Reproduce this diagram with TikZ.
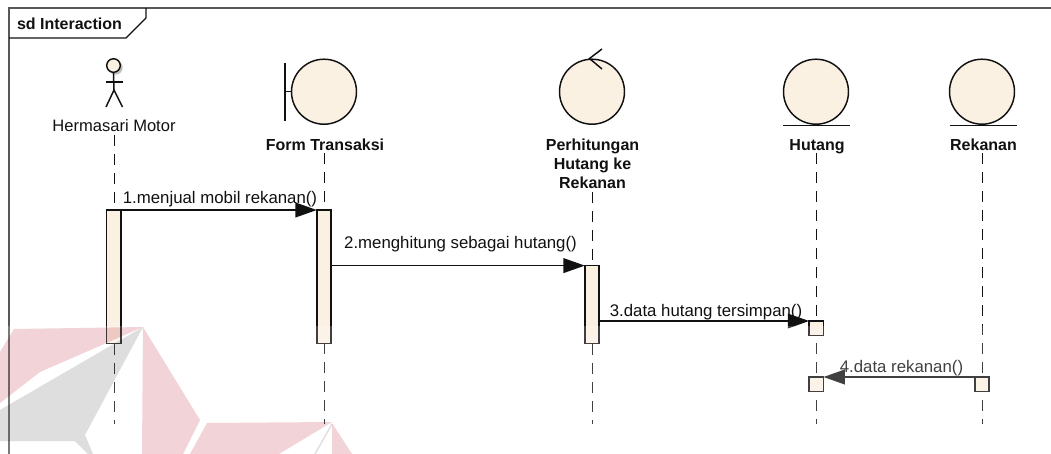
\documentclass[tikz,border=0pt]{standalone}
\usepackage{fontspec}
\setmainfont{Liberation Sans}
\usetikzlibrary{arrows.meta}
\definecolor{cream}{HTML}{FBF1E3}
\definecolor{wmred}{HTML}{F2D3D7}
\definecolor{wmgrey}{HTML}{DEDEDE}
\definecolor{ink}{HTML}{111111}
\tikzset{
  x=0.75pt,y=-0.75pt,
  lineart/.style={draw=ink,line width=1.1pt},
  robust/.style={circle,lineart,fill=cream,inner sep=0pt,outer sep=0pt,minimum size=48.75pt},
  barnode/.style={rectangle,lineart,fill=cream,inner sep=0pt,outer sep=0pt,minimum width=10.8pt},
  lifeline/.style={draw=ink,line width=1.1pt,dash pattern=on 8.25pt off 6pt},
  message/.style={draw=ink,line width=1.2pt,-{Triangle[length=16pt,width=11pt,fill=ink]}},
  bold label/.style={inner sep=0pt,font=\fontsize{12pt}{14.25pt}\selectfont\bfseries,text=ink,align=center},
  plain label/.style={inner sep=0pt,anchor=base,font=\fontsize{12.4pt}{14pt}\selectfont,text=ink},
  message label/.style={plain label,font=\fontsize{12.6pt}{14pt}\selectfont},
}
\begin{document}
\begin{tikzpicture}
\useasboundingbox (0,0) rectangle (1051,454);
\fill[white] (0,0) rectangle (1051,454);

% frame
\draw[draw=ink!70,line width=0.9pt] (9,454) -- (9,8) -- (1051,8);
\draw[draw=ink,line width=0.8pt] (9,38) -- (126,38) -- (146,18) -- (146,8);
\node[bold label,anchor=base] (frametitle) at (69.5,29) {sd Interaction};

% lifeline ends
\coordinate (la) at (114.3,135);   \coordinate (lae) at (114.3,424);
\coordinate (lb) at (324.5,153); \coordinate (lbe) at (324.5,424);
\coordinate (lc) at (592.5,192); \coordinate (lce) at (592.5,424);
\coordinate (ld) at (816.5,153); \coordinate (lde) at (816.5,424);
\coordinate (le) at (982.5,153); \coordinate (lee) at (982.5,424);
\draw[lifeline] (la) -- (lae);
\draw[lifeline] (lb) -- (lbe);
\draw[lifeline] (lc) -- (lce);
\draw[lifeline] (ld) -- (lde);
\draw[lifeline] (le) -- (lee);

% actor
\fill[black!25] (115.5,67.5) circle (7.2);
\node[circle,lineart,fill=cream,inner sep=0pt,minimum size=10.2pt] (head) at (113.5,65.5) {};
\coordinate (hip) at (114,90);
\draw[lineart] (head.south) -- (hip);
\draw[lineart] (106,82) -- (123,82);
\draw[lineart] (106,107) -- (hip) -- (122.5,107);
\node[plain label] (actorlabel) at (114,131) {Hermasari Motor};

% boundary
\node[robust] (form) at (324,91.7) {};
\draw[lineart] (285,63) -- (285,121);
\draw[lineart] (285,91.7) -- (form.west);
\node[bold label,anchor=base] (formlabel) at (325,150) {Form Transaksi};

% control
\node[robust] (ctrl) at (592,91.7) {};
\draw[lineart] (602,49) -- (589.5,58.5) -- (602,69);
\node[bold label,anchor=north] (ctrllabel) at (592.5,139) {Perhitungan\\Hutang ke\\Rekanan};

% entities
\node[robust] (hutang) at (816,91.7) {};
\draw[lineart] (783,125.5) -- (850,125.5);
\node[bold label,anchor=base] (hutanglabel) at (817,150) {Hutang};
\node[robust] (rekanan) at (982,91.7) {};
\draw[lineart] (949.5,125.5) -- (1017,125.5);
\node[bold label,anchor=base] (rekananlabel) at (983.5,150) {Rekanan};

% activation bars
\node[barnode,minimum height=100pt,anchor=north] (ba) at (113.7,210) {};
\node[barnode,minimum height=100pt,anchor=north] (bb) at (324,210) {};
\node[barnode,minimum height=58.5pt,anchor=north] (bc) at (592,265.6) {};
\node[barnode,minimum height=10.8pt,anchor=north] (bd) at (816.3,321) {};
\node[barnode,minimum height=10.8pt,anchor=north] (bf) at (816.3,377) {};
\node[barnode,minimum height=10.8pt,anchor=north] (be) at (982,377) {};

% messages
\draw[message] (ba.north east) -- (bb.north west);
\draw[message] (bb.east |- bc.north) -- (bc.north west);
\draw[message] (bc.east |- bd.north) -- (bd.north west);
\draw[message] (be.north west) -- (bf.north east);
\node[message label] (m1) at (220,203.5) {1.menjual mobil rekanan()};
\node[message label] (m2) at (460.5,248) {2.menghitung sebagai hutang()};
\node[message label] (m3) at (706,316) {3.data hutang tersimpan()};
\node[message label] (m4) at (901.5,372) {4.data rekanan()};

% watermark band
\fill[white,opacity=0.2] (0,326) rectangle (1051,454);
\begin{scope}[blend mode=multiply]
\fill[wmred] (0,352) -- (14,329) -- (143,327) -- (40,372) -- (0,403) -- cycle;
\fill[wmgrey] (143,327) -- (0,410) -- (0,441) -- (75,441) -- (88,454) -- (93,454) -- (85,435) -- cycle;
\fill[wmred] (143,327) -- (200,420) -- (183,454) -- (142,454) -- cycle;
\fill[wmred] (207,423) -- (332,422) -- (279,454) -- (190,454) -- cycle;
\fill[wmred] (332,423) -- (352,454) -- (332,454) -- cycle;
\draw[wmgrey,line width=1pt] (332,424) -- (315,454);
\end{scope}
\end{tikzpicture}
\end{document}
